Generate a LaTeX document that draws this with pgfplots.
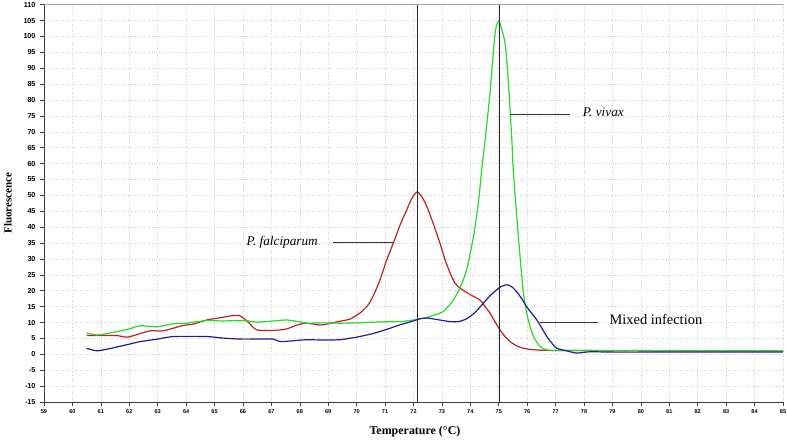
\documentclass[border=0pt]{standalone}
\usepackage{fontspec}
\setmainfont{Liberation Serif}
\newfontfamily\tickfont{Liberation Sans}
\usepackage{pgfplots}
\pgfplotsset{compat=1.18}
\definecolor{cRed}{RGB}{190,32,32}
\definecolor{cGreen}{RGB}{40,215,40}
\definecolor{cBlue}{RGB}{30,30,145}
\definecolor{cGrid}{RGB}{212,212,212}
\definecolor{cInk}{RGB}{60,60,60}

\begin{document}
\begin{tikzpicture}
\begin{axis}[
  scale only axis, width=739bp, height=397.3bp,
  xmin=59, xmax=85, ymin=-15, ymax=110,
  xtick distance=1, ytick distance=5,
  grid=major, grid style={cGrid, dotted, line width=0.6pt},
  axis x line*=bottom, axis y line*=left,
  axis line style={cInk, line width=0.9pt, -},
  tick align=outside, major tick length=4bp,
  tick style={cInk, line width=0.6pt},
  /pgf/number format/assume math mode=true,
  yticklabel style={font=\tickfont\bfseries\fontsize{7.2}{8}\selectfont, xshift=-1bp},
  xticklabel style={font=\tickfont\bfseries\fontsize{5.6}{6}\selectfont},
  xlabel={Temperature (°C)},
  ylabel={Fluorescence},
  every axis x label/.style={at={(axis description cs:0.502,0)}, anchor=center,
    yshift=-30bp, font=\bfseries\fontsize{12}{14}\selectfont},
  every axis y label/.style={at={(axis description cs:-0.0487,0.5)}, anchor=center,
    rotate=90, font=\bfseries\fontsize{11}{13}\selectfont},
]
% P. falciparum
\addplot[cRed, line width=1.2bp, smooth, tension=0.4] coordinates {
  (60.5,5.9) (61.0,5.9) (61.56,5.9) (61.91,5.4) (62.2,6.0) (62.73,7.4) (63.2,7.4)
  (63.9,9.1) (64.25,9.5) (64.72,10.8) (65.2,11.5) (65.66,12.2) (65.9,12.1) (66.2,10.0)
  (66.48,7.7) (67.07,7.5) (67.54,8.0) (67.9,9.2) (68.24,9.8) (68.71,9.2) (69.1,9.8)
  (69.41,10.4) (69.77,11.1) (70.12,13.0) (70.4,15.5) (70.59,18.5) (70.82,23.4)
  (71.05,29.5) (71.29,35.0) (71.52,40.5) (71.76,45.4) (71.95,49.2) (72.13,51.1)
  (72.3,49.5) (72.47,46.5) (72.7,41.0) (72.93,35.0) (73.1,30.0) (73.29,25.5)
  (73.45,22.5) (73.64,20.8) (73.99,18.8) (74.34,17.1) (74.5,15.2) (74.69,13.0)
  (74.87,10.2) (75.04,7.7) (75.22,5.6) (75.4,4.0) (75.6,2.8) (75.86,1.9) (76.15,1.5)
  (76.45,1.3) (77.0,1.2) (78.0,1.2) (79.0,1.1) (80.0,1.2) (81.0,1.1) (82.0,1.1)
  (83.0,1.1) (84.0,1.1) (85.0,1.1)};
% P. vivax
\addplot[cGreen, line width=1.2bp, smooth, tension=0.4] coordinates {
  (60.5,6.7) (60.85,6.1) (61.2,6.5) (61.6,7.2) (62.0,8.0) (62.38,9.0) (62.7,8.8)
  (63.0,8.7) (63.55,9.6) (64.0,9.8) (64.72,10.6) (65.3,10.5) (65.66,10.6) (66.2,10.5)
  (66.48,10.1) (67.07,10.5) (67.54,10.8) (68.0,10.2) (68.24,9.8) (68.8,9.9) (69.41,9.8)
  (70.0,9.9) (70.59,10.1) (71.2,10.3) (71.53,10.3) (72.0,10.8) (72.47,11.6)
  (73.05,13.5) (73.4,17.1) (73.64,21.0) (73.87,26.6) (74.11,37.0) (74.28,47.5)
  (74.4,58.0) (74.52,67.5) (74.69,82.1) (74.87,101.0) (75.01,104.7) (75.22,97.9)
  (75.34,85.3) (75.46,67.5) (75.51,58.0) (75.69,37.0) (75.87,19.0) (76.04,10.8)
  (76.22,5.6) (76.45,2.5) (76.69,1.4) (77.0,1.2) (78.0,1.2) (79.0,1.2) (80.0,1.1)
  (81.0,1.2) (82.0,1.1) (83.0,1.1) (84.0,1.1) (85.0,1.1)};
% Mixed infection
\addplot[cBlue, line width=1.2bp, smooth, tension=0.4] coordinates {
  (60.5,1.9) (60.85,1.1) (61.2,1.6) (61.56,2.3) (62.0,3.2) (62.38,4.0) (63.0,4.8)
  (63.55,5.6) (64.72,5.6) (65.3,5.1) (65.9,4.8) (66.5,4.8) (67.07,4.8) (67.3,4.0)
  (67.8,4.3) (68.24,4.6) (68.8,4.5) (69.41,4.6) (70.0,5.4) (70.6,6.6) (71.17,8.2)
  (71.53,9.3) (72.0,10.5) (72.23,11.2) (72.47,11.4) (72.8,11.0) (73.05,10.6)
  (73.3,10.3) (73.58,10.3) (73.8,10.9) (73.99,11.9) (74.2,13.5) (74.46,16.1)
  (74.7,18.5) (74.93,20.3) (75.1,21.4) (75.28,21.9) (75.45,21.3) (75.63,19.7)
  (75.8,17.6) (75.98,15.0) (76.16,12.9) (76.34,10.8) (76.52,8.2) (76.69,5.6)
  (76.87,3.5) (77.04,1.9) (77.39,1.1) (77.74,0.4) (78.2,0.8) (79.0,0.7) (80.0,0.7)
  (81.0,0.7) (82.0,0.7) (83.0,0.7) (84.0,0.7) (85.0,0.7)};
% frame top and melting-peak markers
\draw[gray!70, line width=0.8pt] (rel axis cs:0,1) -- (rel axis cs:1,1);
\draw[black!85, line width=0.9pt] (axis cs:72.13,-15) -- (axis cs:72.13,110);
\draw[black!85, line width=0.9pt] (axis cs:75.02,-15) -- (axis cs:75.02,110);
% annotations
\draw[black!80, line width=0.9pt] (axis cs:69.17,35.1) -- (axis cs:71.28,35.1);
\node[anchor=mid east, inner sep=0pt, font=\itshape\fontsize{13.3}{15}\selectfont]
  at (axis cs:68.64,35.1) {P. falciparum};
\draw[black!80, line width=0.9pt] (axis cs:75.40,75.5) -- (axis cs:77.51,75.5);
\node[anchor=mid west, inner sep=0pt, font=\itshape\fontsize{13.3}{15}\selectfont]
  at (axis cs:77.95,75.5) {P. vivax};
\draw[black!80, line width=0.9pt] (axis cs:76.45,10.0) -- (axis cs:78.5,10.0);
\node[anchor=mid west, inner sep=0pt, font=\fontsize{14.5}{16}\selectfont]
  at (axis cs:78.89,10.0) {Mixed infection};
\end{axis}
\pgfresetboundingbox
\path ([shift={(-44bp,-38bp)}]current axis.south west)
  rectangle ([shift={(4bp,4.7bp)}]current axis.north east);
\end{tikzpicture}
\end{document}
